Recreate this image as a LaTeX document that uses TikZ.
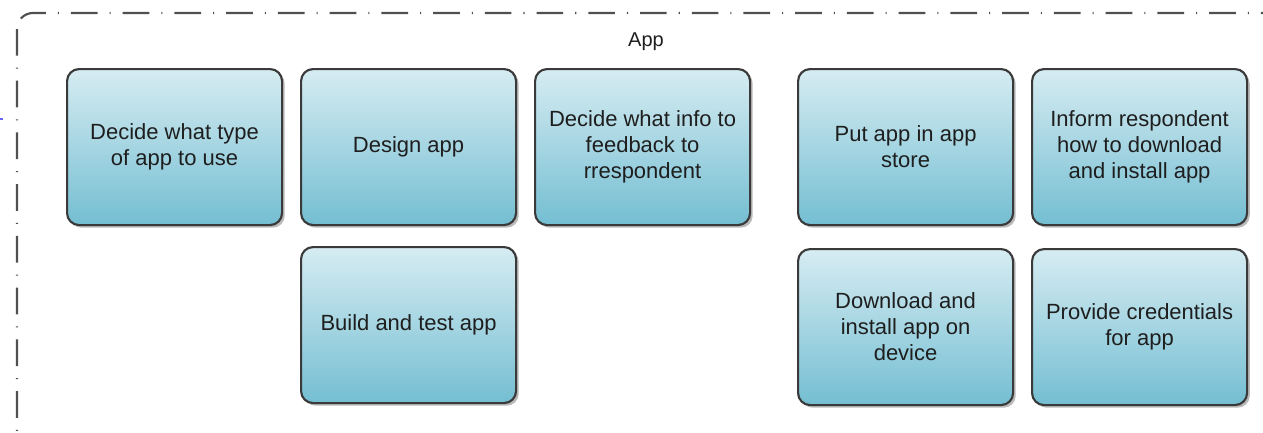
\documentclass[tikz,border=0pt]{standalone}
\usepackage{fontspec}
\setmainfont{Liberation Sans}
\usetikzlibrary{shadows}
\definecolor{boxtop}{HTML}{D6ECF2}
\definecolor{boxbot}{HTML}{74BED2}
\definecolor{boxline}{HTML}{3A3A3A}
\definecolor{frameline}{HTML}{505050}
\definecolor{txt}{HTML}{1E1E1E}
\tikzset{
  task/.style={draw=boxline, line width=1.6pt, rounded corners=9pt,
    top color=boxtop, bottom color=boxbot,
    minimum width=161.25pt, minimum height=117pt, anchor=north west,
    align=center, text=txt, inner sep=2pt,
    font=\fontsize{16.5}{19.5}\selectfont,
    drop shadow={shadow xshift=2pt, shadow yshift=-2pt, fill=black!45, opacity=0.6}},
  framebox/.style={draw=frameline, line width=1.6pt, rounded corners=12pt,
    dash pattern=on 20pt off 9pt on 0.8pt off 9pt},
  lbl/.style={font=\fontsize{15}{17}\selectfont, text=txt}
}
\begin{document}
\begin{tikzpicture}[x=0.75pt,y=-0.75pt]
\useasboundingbox (0,0) rectangle (1263,432);
\begin{scope}
\clip (0,0) rectangle (1263,432);
\draw[framebox] (17,13) rectangle (1300,470);
\end{scope}
\draw[color=blue!60, line width=0.8pt] (0,119) -- (3,119);
\node[lbl] (title) at (646,42) {App};
\node[task] (type) at (66,68) {Decide what type\\of app to use};
\node[task] (design) at (300,68) {Design app};
\node[task] (info) at (534,68) {Decide what info to\\feedback to\\rrespondent};
\node[task] (store) at (797,68) {Put app in app\\store};
\node[task] (inform) at (1031,68) {Inform respondent\\how to download\\and install app};
\node[task] (build) at (300,246) {Build and test app};
\node[task] (download) at (797,248) {Download and\\install app on\\device};
\node[task] (cred) at (1031,248) {Provide credentials\\for app};
\end{tikzpicture}
\end{document}
